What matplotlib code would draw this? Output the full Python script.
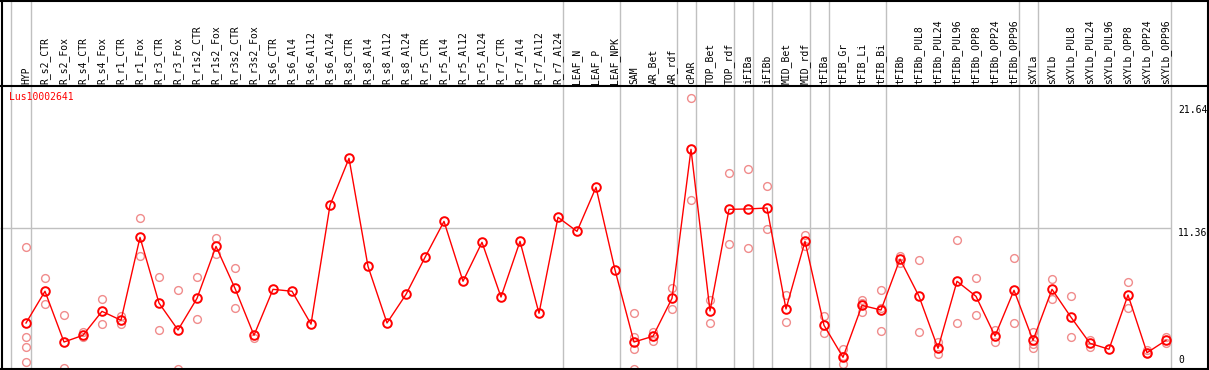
import matplotlib
matplotlib.use("Agg")
import matplotlib.pyplot as plt
from matplotlib.lines import Line2D
import numpy as np

samples = ["HYP", "R_s2_CTR", "R_s2_Fox", "R_s4_CTR", "R_s4_Fox", "R_r1_CTR", "R_r1_Fox",
           "R_r3_CTR", "R_r3_Fox", "R_r1s2_CTR", "R_r1s2_Fox", "R_r3s2_CTR", "R_r3s2_Fox",
           "R_s6_CTR", "R_s6_Al4", "R_s6_Al12", "R_s6_Al24", "R_s8_CTR", "R_s8_Al4",
           "R_s8_Al12", "R_s8_Al24", "R_r5_CTR", "R_r5_Al4", "R_r5_Al12", "R_r5_Al24",
           "R_r7_CTR", "R_r7_Al4", "R_r7_Al12", "R_r7_Al24", "LEAF_N", "LEAF_P", "LEAF_NPK",
           "SAM", "AR_Bet", "AR_rdf", "cPAR", "TOP_Bet", "TOP_rdf", "iFIBa", "iFIBb",
           "MID_Bet", "MID_rdf", "tFIBa", "tFIB_Gr", "tFIB_Li", "tFIB_Bi", "tFIBb",
           "tFIBb_PUL8", "tFIBb_PUL24", "tFIBb_PUL96", "tFIBb_OPP8", "tFIBb_OPP24",
           "tFIBb_OPP96", "sXYLa", "sXYLb", "sXYLb_PUL8", "sXYLb_PUL24", "sXYLb_PUL96",
           "sXYLb_OPP8", "sXYLb_OPP24", "sXYLb_OPP96"]

# mean expression per sample
means = [3.49, 6.13, 1.91, 2.47, 4.46, 3.72, 10.61, 5.15, 2.91, 5.54, 9.86, 6.37, 2.47,
         6.29, 6.13, 3.40, 13.28, 17.18, 8.20, 3.49, 5.87, 8.95, 11.94, 6.96, 10.20,
         5.65, 10.28, 4.30, 12.28, 11.11, 14.77, 7.90,
         1.91, 2.39, 5.54, 17.93, 4.49, 12.94, 12.97, 13.05, 4.66, 10.28, 3.30, 0.64,
         4.96, 4.57, 8.80, 5.71, 1.39, 6.96, 5.71, 2.41, 6.21, 2.05, 6.29, 3.97, 1.80,
         1.31, 5.82, 1.02, 2.05]

# replicate values (index of sample, value)
rep_idx = [0, 0, 0, 0, 1, 1, 2, 2, 3, 3, 4, 4, 5, 5, 6, 6, 7, 7, 8, 8, 9, 9, 10, 10,
           11, 11, 12,
           32, 32, 32, 32, 33, 33, 34, 34, 35, 35, 36, 36, 37, 37, 38, 38, 39, 39,
           40, 40, 41, 41, 42, 42, 43, 43, 43, 44, 44, 44, 45, 45, 45, 46, 46,
           47, 47, 48, 48, 49, 49, 50, 50, 51, 51, 52, 52, 53, 53, 53, 54, 54,
           55, 55, 56, 56, 58, 58, 59, 59, 60, 60]
rep_val = [9.78, 2.30, 1.47, 0.22, 7.21, 5.05, 4.16, -0.27, 2.72, 2.35, 5.46, 3.38,
           4.07, 3.43, 12.19, 9.06, 7.29, 2.91, 6.21, -0.36, 7.29, 3.80, 10.53, 9.23,
           8.04, 4.71, 2.22,
           4.32, 2.30, 1.36, -0.31, 2.77, 2.02, 6.37, 4.68, 22.17, 13.69, 5.38, 3.49,
           15.94, 10.03, 16.27, 9.70, 14.85, 11.28, 5.82, 3.55, 10.81, 9.89, 4.05, 2.64,
           1.33, 0.72, 0.11, 5.40, 5.18, 4.38, 6.23, 4.76, 2.80, 9.09, 8.45,
           8.70, 2.74, 1.94, 0.89, 10.37, 3.47, 7.21, 4.13, 2.91, 1.94, 8.87, 3.47,
           2.74, 1.75, 1.44, 7.15, 5.46, 5.71, 2.30, 2.08, 1.52, 6.87, 4.71, 1.25, 0.97,
           2.35, 1.80]

group_breaks = [-0.8, 0.25, 28.25, 31.25, 34.25, 35.25, 37.25, 38.25, 39.25, 41.25,
                42.25, 45.25, 52.25, 53.25, 60.25]
ref_line = 11.36
axis_labels = [21.64, 11.36, 0]
gene = "Lus10002641"

W, H = 1209, 370
x0, dx = 26.0, 19.0     # pixel of first column, column step
y0, dy = 365.0, 12.03   # pixel of zero, pixels per unit

fig = plt.figure(figsize=(W / 100, H / 100), dpi=100)
ax = fig.add_axes([0, 0, 1, 1])
ax.set_xlim(-x0 / dx, (W - x0) / dx)
ax.set_ylim((y0 - H) / dy, y0 / dy)
ax.axis("off")

gray = "#c0c0c0"
for b in group_breaks:
    ax.axvline(b, color=gray, lw=1.0, zorder=1)
ax.hlines(ref_line, -x0 / dx, group_breaks[-1], color=gray, lw=1.0, zorder=1)

x = np.arange(len(samples))
ax.plot(rep_idx, rep_val, "o", ms=5.6, mfc="none", mec="#f08c8c", mew=1.0, zorder=2)
ax.plot(x, means, "-", color="red", lw=1.0, zorder=3)
ax.plot(x, means, "o", ms=6.2, mfc="none", mec="red", mew=1.4, zorder=4)

font = "DejaVu Sans Mono"
tr = ax.get_xaxis_transform()
for i, s in enumerate(samples):
    ax.text(i, 1 - 84 / H, s, rotation=90, ha="center", va="bottom",
            fontsize=7, family=font, transform=tr)

for v in axis_labels:
    ax.text((1178 - x0) / dx, v, f"{v:g}" if v else "0", ha="left",
            va="top" if v else "bottom", fontsize=7, family=font)

fig.text(9 / W, 1 - 97 / H, gene, color="red", fontsize=7, family=font, va="center")

# frame
fig.add_artist(Line2D([1.5 / W, 1.5 / W], [0, 1], color="black", lw=1.5))
fig.add_artist(Line2D([1207.5 / W, 1207.5 / W], [0, 1], color="black", lw=1.5))
fig.add_artist(Line2D([0, 1], [1 - 0.5 / H, 1 - 0.5 / H], color="black", lw=1.5))
fig.add_artist(Line2D([0, 1], [1 - 85.7 / H, 1 - 85.7 / H], color="black", lw=1.5))
fig.add_artist(Line2D([0, 1], [1 - 369 / H, 1 - 369 / H], color="black", lw=1.5))

fig.savefig("out.png", dpi=100)
